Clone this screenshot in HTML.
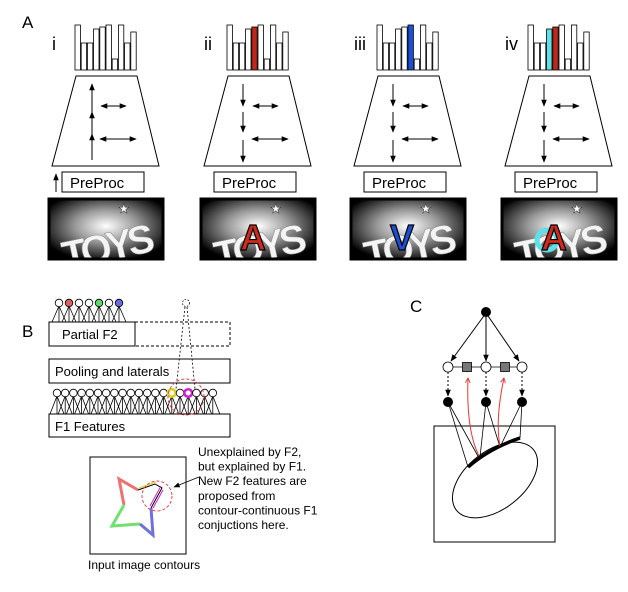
<!DOCTYPE html>
<html><head><meta charset="utf-8"><style>
html,body{margin:0;padding:0;background:#fff}
svg{display:block;font-family:"Liberation Sans",Arial,sans-serif}
</style></head><body>
<svg id="s" width="628" height="592" viewBox="0 0 628 592" xmlns="http://www.w3.org/2000/svg">
<defs>
<radialGradient id="g" cx="50%" cy="45%" r="60%"><stop offset="0" stop-color="#fff"/><stop offset="0.45" stop-color="#999"/><stop offset="1" stop-color="#000"/></radialGradient>
<marker id="ah" viewBox="0 0 10 10" refX="9" refY="5" markerWidth="7" markerHeight="7" orient="auto-start-reverse"><path d="M0,1L10,5L0,9z" fill="#000"/></marker>
<marker id="ahr" viewBox="0 0 10 10" refX="9" refY="5" markerWidth="6" markerHeight="6" orient="auto"><path d="M1,1L9,5L1,9" fill="none" stroke="#e33" stroke-width="1.5"/></marker>
</defs>
<text x="22" y="28" font-size="17">A</text>
<text x="22" y="337" font-size="17">B</text>
<text x="410" y="312" font-size="17">C</text>
<g id="A"></g>
<g id="B"></g>
<g id="C"></g>
</svg>
<script>
const NS="http://www.w3.org/2000/svg";
function el(p,t,a,txt){const e=document.createElementNS(NS,t);for(const k in a)e.setAttribute(k,a[k]);if(txt!==undefined)e.textContent=txt;p.appendChild(e);return e;}
const A=document.getElementById('A'),B=document.getElementById('B'),C=document.getElementById('C');
const defs=document.querySelector('defs');
const offs=[0,152,302,453],labels=['i','ii','iii','iv'];
const tops=[25,43,43,29,27,25,59,25,43,32];
const hl=[{},{4:'#c0281c'},{5:'#1a4fd8'},{3:'#5ee0e8',4:'#c0281c'}];
const letters=[null,{t:'A',c:'#d0281c'},{t:'V',c:'#1a4fd8'},{t:'A',c:'#d0281c',o:true}];
offs.forEach((o,i)=>{
 el(A,'text',{x:52+o,y:50,'font-size':18},labels[i]);
 tops.forEach((t,j)=>{el(A,'rect',{x:75+o+j*6.2,y:t,width:5.4,height:70-t,fill:hl[i][j]||'#fff',stroke:'#000','stroke-width':0.8});});
 el(A,'path',{d:`M${76+o},76L${137+o},76L${159+o},166L${52+o},166Z`,fill:'#fff',stroke:'#000','stroke-width':1});
 const x=92+o;
 if(i==0){
  [[160,134],[134,112],[112,84]].forEach(([a,b])=>el(A,'line',{x1:x,y1:a,x2:x,y2:b,stroke:'#000','stroke-width':1,'marker-end':'url(#ah)'}));
 } else {
  [[84,106],[112,132],[140,162]].forEach(([a,b])=>el(A,'line',{x1:x-1,y1:a,x2:x-1,y2:b,stroke:'#000','stroke-width':1,'marker-end':'url(#ah)'}));
 }
 el(A,'line',{x1:101+o,y1:106,x2:126+o,y2:106,stroke:'#000','stroke-width':1,'marker-start':'url(#ah)','marker-end':'url(#ah)'});
 el(A,'line',{x1:100+o,y1:139,x2:136+o,y2:139,stroke:'#000','stroke-width':1,'marker-start':'url(#ah)','marker-end':'url(#ah)'});
 el(A,'rect',{x:62+o,y:172,width:82,height:20,fill:'#fff',stroke:'#000','stroke-width':1});
 el(A,'text',{x:70+o,y:188,'font-size':15},'PreProc');
 const cp=el(defs,'clipPath',{id:'cp'+i});el(cp,'rect',{x:49+o,y:199,width:114,height:60});
 const g=el(A,'g',{'clip-path':`url(#cp${i})`});
 el(g,'rect',{x:49+o,y:199,width:114,height:60,fill:'url(#g)'});
 el(g,'text',{x:60+o,y:262,'font-size':40,'font-weight':'bold',fill:'#f4f4f4',stroke:'#888','stroke-width':0.5,transform:`rotate(-12 ${100+o} 240)`,'letter-spacing':'-5'},'TOYS');
 el(g,'text',{x:118+o,y:213,'font-size':13,fill:'#fff',stroke:'#333','stroke-width':0.5},'★');
 const L=letters[i];
 if(L){
  if(L.o) el(g,'circle',{cx:94+o,cy:240,r:10,fill:'none',stroke:'#5ee0e8','stroke-width':5});
  el(g,'text',{x:88+o,y:250,'font-size':36,'font-weight':'bold',fill:L.c,stroke:'#000','stroke-width':1.2},L.t);
 }
 el(A,'rect',{x:49+o,y:199,width:114,height:60,fill:'none',stroke:'#000','stroke-width':3});
});
el(A,'line',{x1:56,y1:192,x2:56,y2:174,stroke:'#000','stroke-width':1,'marker-end':'url(#ah)'});

// Panel B
el(B,'rect',{x:49,y:322,width:86,height:24,fill:'#fff',stroke:'#000'});
el(B,'rect',{x:135,y:322,width:95,height:24,fill:'none',stroke:'#000','stroke-dasharray':'3,2'});
el(B,'text',{x:62,y:339,'font-size':13},'Partial F2');
el(B,'rect',{x:49,y:359,width:181,height:24,fill:'#fff',stroke:'#000'});
el(B,'text',{x:55,y:376,'font-size':13},'Pooling and laterals');
el(B,'rect',{x:49,y:414,width:181,height:23,fill:'#fff',stroke:'#000'});
el(B,'text',{x:55,y:431,'font-size':13},'F1 Features');
const tc=['#fff','#e06060','#fff','#fff','#5ed86a','#fff','#6a6ae0'];
tc.forEach((c,j)=>{const x=59+j*10;
 [-7,0,7].forEach(d=>el(B,'line',{x1:x,y1:306,x2:x+d,y2:322,stroke:'#000','stroke-width':0.8}));
});
tc.forEach((c,j)=>el(B,'circle',{cx:59+j*10,cy:303,r:3.8,fill:c,stroke:'#000','stroke-width':0.8}));
el(B,'circle',{cx:186,cy:303,r:3.5,fill:'#fff',stroke:'#000','stroke-width':0.8,'stroke-dasharray':'1.5,1.5'});
el(B,'line',{x1:185,y1:307,x2:176,y2:389,stroke:'#000','stroke-width':0.8,'stroke-dasharray':'2,2'});
el(B,'line',{x1:187,y1:307,x2:195,y2:389,stroke:'#000','stroke-width':0.8,'stroke-dasharray':'2,2'});
for(let j=0;j<20;j++){const x=57+j*8.2;
 [-7,0,7].forEach(d=>el(B,'line',{x1:x,y1:396,x2:x+d,y2:414,stroke:'#000','stroke-width':0.8}));}
for(let j=0;j<20;j++){const x=57+j*8.2;
 let st='#000',w=0.8;
 if(j==14){st='#d8d020';w=2.5}if(j==16){st='#d020d0';w=2.5}
 el(B,'circle',{cx:x,cy:393,r:3.8,fill:'#fff',stroke:st,'stroke-width':w});}
el(B,'circle',{cx:186,cy:397,r:18,fill:'none',stroke:'#e33','stroke-width':0.9,'stroke-dasharray':'3,2'});
el(B,'rect',{x:90,y:457,width:96,height:97,fill:'#fff',stroke:'#000'});
el(B,'text',{x:88,y:569,'font-size':12},'Input image contours');
["Unexplained by F2,","but explained by F1.","New F2 features are","proposed from","contour-continuous F1","conjuctions here."].forEach((t,k)=>el(B,'text',{x:198,y:456+k*14.6,'font-size':12},t));
el(B,'line',{x1:199,y1:477,x2:174,y2:487,stroke:'#000','stroke-width':0.9,'marker-end':'url(#ah)'});
el(B,'polyline',{points:'138,490 119,479 124,505',fill:'none',stroke:'#f07070','stroke-width':3});
el(B,'polyline',{points:'124,505 112,526 140,524',fill:'none',stroke:'#70e070','stroke-width':3});
el(B,'polyline',{points:'140,524 153,535 151,508',fill:'none',stroke:'#7070e0','stroke-width':3});
el(B,'polyline',{points:'138,490 155,484 162,488 151,508',fill:'none',stroke:'#000','stroke-width':1});
el(B,'polyline',{points:'139,488 156,482',fill:'none',stroke:'#d8d020','stroke-width':1});
el(B,'polyline',{points:'161,486 150,506',fill:'none',stroke:'#d020d0','stroke-width':1});
el(B,'polyline',{points:'163,490 153,508',fill:'none',stroke:'#d020d0','stroke-width':1});
el(B,'circle',{cx:157,cy:496,r:15,fill:'none',stroke:'#e33','stroke-width':0.9,'stroke-dasharray':'3,2'});

// Panel C
const ms=[448,486,522],my=367;
ms.forEach(x=>el(C,'line',{x1:486,y1:313,x2:x+(x<486?3:x>486?-3:0),y2:my-6,stroke:'#000','stroke-width':1,'marker-end':'url(#ah)'}));
el(C,'line',{x1:448,y1:my,x2:522,y2:my,stroke:'#000','stroke-width':0.8});
el(C,'circle',{cx:486,cy:312,r:5,fill:'#000'});
ms.forEach(x=>{el(C,'line',{x1:x,y1:my+5,x2:x,y2:396,stroke:'#000','stroke-width':1,'stroke-dasharray':'2,2','marker-end':'url(#ah)'});});
ms.forEach(x=>el(C,'circle',{cx:x,cy:my,r:5,fill:'#fff',stroke:'#000','stroke-width':0.8}));
[467,505].forEach(x=>el(C,'rect',{x:x-4.5,y:my-4.5,width:9,height:9,fill:'#777',stroke:'#000','stroke-width':0.8}));
el(C,'rect',{x:434,y:426,width:121,height:116,fill:'none',stroke:'#000'});
el(C,'ellipse',{cx:495,cy:480,rx:49,ry:29,transform:'rotate(-38 495 480)',fill:'none',stroke:'#000','stroke-width':1});
el(C,'path',{d:'M468,467 Q490,448 520,438',fill:'none',stroke:'#000','stroke-width':3.5});
[[448,402,468,467],[448,402,479,458],[486,402,480,457],[486,402,500,447],[522,402,500,447],[522,402,520,438]].forEach(([a,b,c,d])=>el(C,'line',{x1:a,y1:b,x2:c,y2:d,stroke:'#000','stroke-width':0.8}));
el(C,'path',{d:'M479,456 Q466,430 468,378',fill:'none',stroke:'#e33','stroke-width':1,'marker-end':'url(#ahr)'});
el(C,'path',{d:'M500,446 Q495,420 504,378',fill:'none',stroke:'#e33','stroke-width':1,'marker-end':'url(#ahr)'});
ms.forEach(x=>el(C,'circle',{cx:x,cy:402,r:5,fill:'#000'}));
</script>
</body></html>
